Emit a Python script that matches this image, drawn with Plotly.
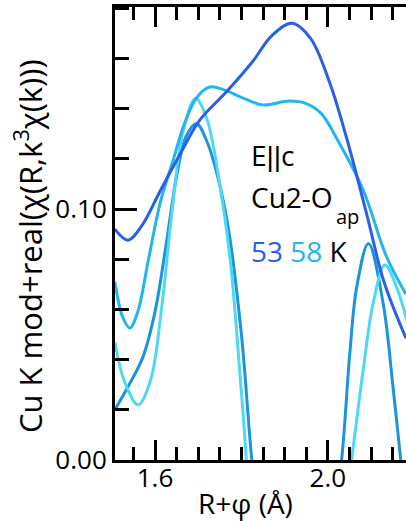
import plotly.graph_objects as go

# R+phi grids (Å) and spectra for each curve
r_53_mod = [1.507, 1.5375, 1.57, 1.61, 1.66, 1.704, 1.767, 1.827, 1.87, 1.917,
            1.96, 2.005, 2.044, 2.09, 2.13, 2.181]
v_53_mod = [0.092, 0.0876, 0.0935, 0.1065, 0.1225, 0.1355, 0.147, 0.159, 0.169, 0.174,
            0.168, 0.150, 0.128, 0.098, 0.071, 0.0485]

r_58_mod = [1.507, 1.525, 1.542, 1.56, 1.585, 1.612, 1.642, 1.668, 1.697, 1.727, 1.76,
            1.80, 1.85, 1.91, 1.95, 1.985, 2.021, 2.082, 2.136, 2.181]
v_58_mod = [0.071, 0.057, 0.0526, 0.059, 0.080, 0.1025, 0.1195, 0.134, 0.1445, 0.1486, 0.1475,
            0.1445, 0.1415, 0.143, 0.142, 0.138, 0.128, 0.1075, 0.081, 0.066]

r_53_re = [1.507, 1.54, 1.572, 1.60, 1.625, 1.65, 1.672, 1.696, 1.72, 1.745, 1.77, 1.80,
           1.824, 1.86, 1.93, 1.99, 2.032, 2.051, 2.067, 2.094, 2.128, 2.151, 2.167, 2.19]
v_53_re = [0.020, 0.030, 0.041, 0.059, 0.085, 0.113, 0.129, 0.134, 0.127, 0.113, 0.092, 0.050,
           0.0, -0.060, -0.100, -0.060, 0.0, 0.0426, 0.069, 0.0863, 0.0625, 0.029, 0.003, -0.035]

r_58_re = [1.507, 1.53, 1.561, 1.59, 1.615, 1.64, 1.665, 1.694, 1.72, 1.747, 1.774, 1.80,
           1.83, 1.90, 1.98, 2.055, 2.082, 2.105, 2.132, 2.159, 2.19]
v_58_re = [0.047, 0.031, 0.022, 0.032, 0.060, 0.100, 0.131, 0.144, 0.136, 0.113, 0.080, 0.027,
           -0.035, -0.110, -0.090, 0.0, 0.036, 0.0625, 0.0777, 0.069, 0.051]

x_range = [1.5074, 2.181]
y_range = [0.0, 0.1805]
x_labelled = [1.6, 2.0]
x_labelled_text = ["1.6", "2.0"]
x_unlabelled = [1.8, 2.2]
y_major = [0.0, 0.1]
y_major_text = ["0.00", "0.10"]

C_53 = "#2b5fe6"
C_58 = "#22b5ee"
C_53_RE = "#1b95da"
C_58_RE = "#4fd8f4"
FONT = "Open Sans"

W, H = 406, 521
L, R, T, B = 115, 0, 7, 61
PW, PH = W - L - R, H - T - B

fig = go.Figure()
for r, v, c, name in [
    (r_53_re, v_53_re, C_53_RE, "53 K real"),
    (r_58_re, v_58_re, C_58_RE, "58 K real"),
    (r_58_mod, v_58_mod, C_58, "58 K mod"),
    (r_53_mod, v_53_mod, C_53, "53 K mod"),
]:
    fig.add_trace(go.Scatter(x=r, y=v, mode="lines", name=name,
                             line=dict(color=c, width=3, shape="spline", smoothing=1.0)))

tick_style = dict(showgrid=False, zeroline=False, ticks="inside", tickwidth=3, tickcolor="black")
tick_font = dict(family=FONT, size=26, color="black")

fig.update_xaxes(range=x_range, tickmode="array", tickvals=x_labelled, ticktext=x_labelled_text,
                 ticklen=20, showline=True, linewidth=3, linecolor="black", mirror="ticks",
                 tickfont=tick_font, ticklabelstandoff=-7,
                 minor=dict(ticks="inside", dtick=0.05, tick0=1.5, ticklen=13, tickwidth=3,
                            tickcolor="black", showgrid=False),
                 **tick_style)
fig.update_yaxes(range=y_range, tickmode="array", tickvals=y_major, ticktext=y_major_text,
                 ticklen=22, showline=True, linewidth=3, linecolor="black", tickfont=tick_font,
                 minor=dict(ticks="inside", dtick=0.02, tick0=0, ticklen=14, tickwidth=3,
                            tickcolor="black", showgrid=False),
                 **tick_style)

fig.update_layout(
    # long unlabelled ticks at 1.8 and 2.2, bottom and top
    xaxis2=dict(overlaying="x", side="bottom", range=x_range, showline=False, mirror="ticks",
                showticklabels=False, tickmode="array", tickvals=x_unlabelled, ticklen=20,
                **tick_style),
    # right-hand ticks without a spine
    yaxis2=dict(overlaying="y", side="right", range=y_range, showline=False,
                showticklabels=False, tickmode="array", tickvals=y_major, ticklen=22,
                minor=dict(ticks="inside", dtick=0.02, tick0=0, ticklen=14, tickwidth=3,
                           tickcolor="black", showgrid=False),
                **tick_style),
)


def px(xp):
    return (xp - L) / PW


def py(yp):
    return (H - B - yp) / PH


annotations = [
    dict(text="Cu K mod+real(χ(R,k<sup>3</sup>χ(k)))", x=px(28), y=py(246), textangle=-90,
         font=dict(size=31)),
    dict(text="R+φ (Å)", x=px(245), y=py(503), font=dict(size=28)),
    dict(text="E<span style='font-family:Liberation Sans'>||</span>c", x=px(249), y=py(155),
         xanchor="left", font=dict(size=28)),
    dict(text="Cu2-O", x=px(249), y=py(197), xanchor="left", font=dict(size=28)),
    dict(text="ap", x=px(334), y=py(216), xanchor="left", font=dict(size=20)),
    dict(text=f"<span style='color:{C_53}'>53</span> <span style='color:{C_58}'>58</span> K",
         x=px(249), y=py(251), xanchor="left", font=dict(size=28)),
]
for a in annotations:
    a.update(xref="paper", yref="paper", showarrow=False, yanchor="middle")
    a.setdefault("xanchor", "center")
    a["font"].update(family=FONT, color="black")

fig.update_layout(width=W, height=H, margin=dict(l=L, r=R, t=T, b=B),
                  paper_bgcolor="white", plot_bgcolor="white", showlegend=False,
                  annotations=annotations)

fig.write_html("out.html")
